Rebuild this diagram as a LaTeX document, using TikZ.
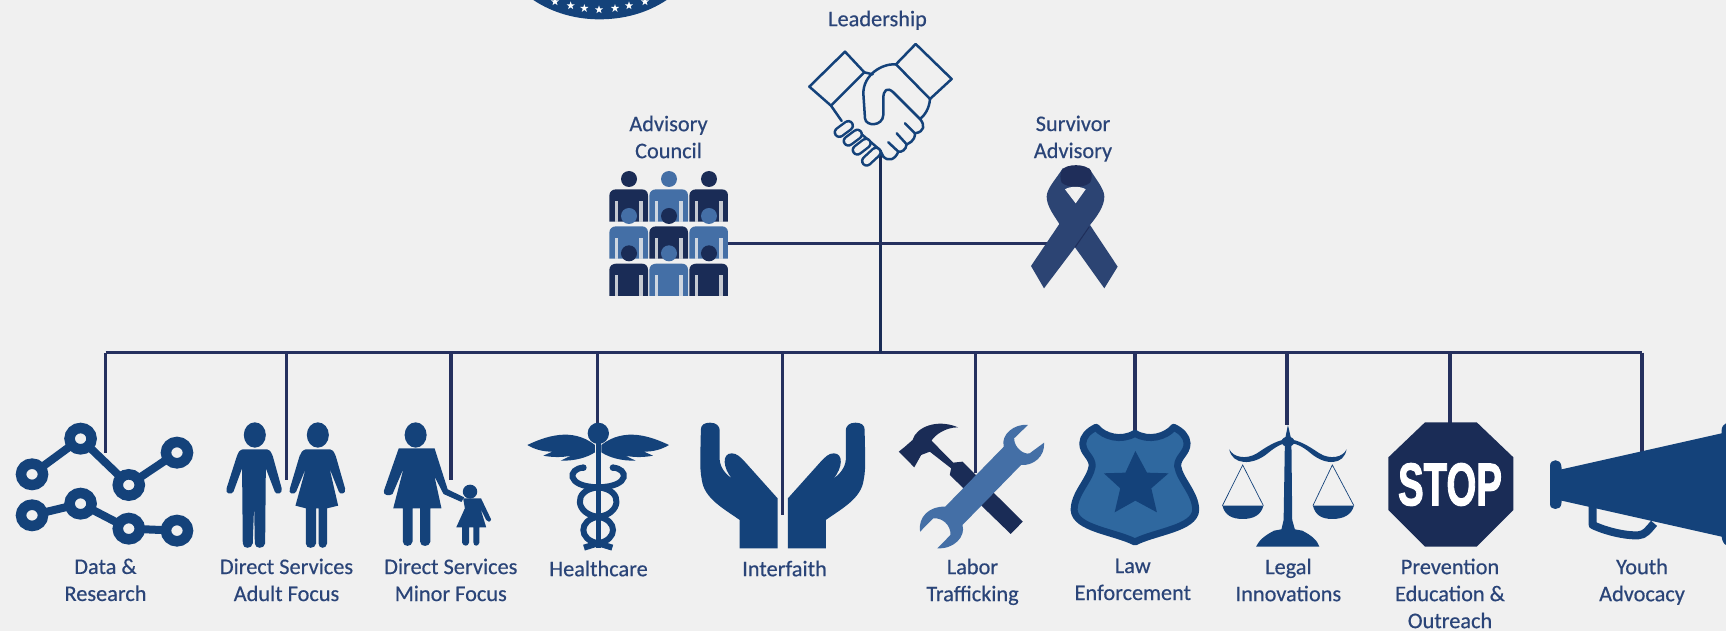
\documentclass[tikz,border=0pt]{standalone}
\usepackage{fontspec}
\setmainfont{Carlito}
\newfontfamily\lblfont[FakeBold=0.45]{Carlito}
\newfontfamily\stopfont[FakeBold=2.2]{Liberation Sans}
\definecolor{bgc}{HTML}{F0F0F0}
\definecolor{navy}{HTML}{1A2C56}
\definecolor{conn}{HTML}{25305E}
\definecolor{icon}{HTML}{14427A}
\definecolor{lite}{HTML}{446FA6}
\definecolor{ribb}{HTML}{2C4473}
\definecolor{ribd}{HTML}{1F2E5A}
\definecolor{badge}{HTML}{2F689F}
\definecolor{txt}{HTML}{2A4478}
\tikzset{
  zz/.style 2 args={shift={(#1,#2)},x=0.3333pt,y=-0.3333pt},
  zb/.style={shift={(0,340)},x=0.34435pt,y=-0.3333pt},
  zc/.style={shift={(520,340)},x=0.34435pt,y=-0.3333pt},
  zd/.style={shift={(1050,340)},x=0.43103pt,y=-0.3333pt},
  lab/.style={text=txt,align=center,inner sep=0pt,anchor=north,font=\lblfont\fontsize{22.3}{27}\selectfont},
  connector/.style={draw=conn,line width=3.4pt,line cap=butt},
  thin icon/.style={draw=icon,line width=2.5pt,line join=round,line cap=round}
}
\newcommand{\psn}[3]{%
  \begin{scope}[shift={(#1,#2)}]
    \fill[#3] (0,0) circle (24);
    \fill[#3] (-59,128) -- (-59,50) .. controls (-59,38) and (-50,31) .. (-38,31) -- (38,31) .. controls (50,31) and (57,38) .. (57,50) -- (57,128) -- cycle;
    \fill[bgc!80!#3] (-43,66) rectangle (-33,128);
    \fill[bgc!80!#3] (31,66) rectangle (41,128);
  \end{scope}}
\newcommand{\sstar}[2]{\fill[white] (#1,#2) +(270:13) -- +(306:5) -- +(342:13) -- +(18:5) -- +(54:13) -- +(90:5) -- +(126:13) -- +(162:5) -- +(198:13) -- +(234:5) -- cycle;}
\newcommand{\handshape}{(525,270) .. controls (525,255) and (535,248) .. (552,248) .. controls (570,248) and (580,258) .. (580,272) -- (580,360) .. controls (582,385) and (600,405) .. (615,415) .. controls (590,385) and (585,340) .. (615,340) .. controls (630,340) and (640,352) .. (650,362) -- (748,475) -- (748,625) -- (638,625) -- (638,540) .. controls (590,505) and (535,475) .. (528,420) .. controls (520,380) and (525,330) .. (525,270) -- cycle}
\newcommand{\wingshape}{(37,90) .. controls (90,65) and (170,35) .. (240,90) -- (240,112) .. controls (215,128) and (180,138) .. (137,137) -- (168,122) .. controls (140,128) and (110,127) .. (85,122) -- (112,110) .. controls (85,110) and (60,104) .. (37,90) -- cycle}
\newcommand{\snake}{(205,158) .. controls (160,160) and (150,215) .. (250,217) .. controls (330,225) and (315,300) .. (250,305) .. controls (190,315) and (190,375) .. (250,385) -- (292,398)}
\begin{document}
\begin{tikzpicture}[x=1pt,y=-1pt]
\fill[bgc] (0,0) rectangle (1726,631);
\path[use as bounding box] (0,0) rectangle (1726,631);

% connector coordinates
\coordinate (leadbot) at (880.5,150);
\coordinate (busmid) at (880.5,352.5);
\coordinate (advR) at (728,243.5);
\coordinate (ribL) at (1050,243.5);
\foreach \n/\x/\yy in {1/105.7/453,2/286.3/480,3/450.8/480,4/597.5/425,5/782.4/515,6/975.2/473,7/1135/432,8/1287/425,9/1450/425,10/1642/454}{
  \coordinate (bus\n) at (\x,352.5);
  \coordinate (icon\n) at (\x,\yy);
}
\draw[connector,line cap=square] (bus1) -- (bus10);
\foreach \n in {1,...,10}{\draw[connector] (bus\n) -- (icon\n);}
\draw[connector,draw=navy] (leadbot) -- (busmid);
\draw[connector] (advR) -- (ribL);

% seal
\begin{scope}[zz={510}{0}]
  \fill[icon] (70,0) .. controls (130,40) and (200,58) .. (268,58) .. controls (340,58) and (410,40) .. (470,0) -- cycle;
  \sstar{135}{5}\sstar{182}{17}\sstar{223}{25}\sstar{267}{29}\sstar{315}{25}\sstar{357}{17}\sstar{405}{5}
\end{scope}

% handshake
\begin{scope}[zz={800}{35}]
  \draw[thin icon] (135,50) -- (28,155) -- (93,212) -- (193,112) -- cycle;
  \draw[thin icon] (347,27) -- (455,132) -- (390,192) -- (288,88) -- cycle;
  \draw[thin icon] (93,212) -- (125,258);
  \draw[thin icon] (193,112) -- (218,118);
  \draw[thin icon] (288,88) .. controls (245,85) and (190,120) .. (190,175) -- (195,250) .. controls (197,275) and (248,275) .. (250,240) -- (250,190) .. controls (250,165) and (262,155) .. (280,172) -- (360,252);
  \draw[thin icon] (390,192) .. controls (388,220) and (375,240) .. (360,252) .. controls (375,270) and (375,290) .. (345,295) -- (315,265);
  \draw[thin icon] (345,295) .. controls (345,320) and (325,325) .. (320,328) -- (290,295);
  \draw[thin icon] (320,328) .. controls (318,345) and (305,352) .. (295,350) -- (265,322);
  \draw[thin icon] (295,350) .. controls (285,375) and (265,380) .. (250,365) -- (240,345) -- (170,285);
  \foreach \a/\b/\c/\d in {118/292/145/272,145/318/172/298,172/345/198/325,200/378/228/352}{
    \draw[icon,line width=11.5pt,line cap=round] (\a,\b) -- (\c,\d);
    \draw[bgc,line width=6.5pt,line cap=round] (\a,\b) -- (\c,\d);
  }
\end{scope}

% people
\begin{scope}[zz={600}{160}]
  \psn{87}{57}{navy}\psn{207}{57}{lite}\psn{327}{57}{navy}
  \psn{87}{168}{lite}\psn{207}{168}{navy}\psn{327}{168}{lite}
  \psn{87}{280}{navy}\psn{207}{280}{lite}\psn{327}{280}{navy}
\end{scope}

% ribbon
\begin{scope}[zz={1020}{160}]
  \fill[ribb] (128,25) .. controls (110,55) and (80,85) .. (80,110) .. controls (80,140) and (105,170) .. (118,192) -- (33,318) -- (72,385) -- (165,262) -- (253,385) -- (293,320) -- (210,195) .. controls (230,170) and (253,140) .. (253,110) .. controls (253,85) and (225,55) .. (208,25) -- cycle;
  \fill[ribd] (125,32) .. controls (135,10) and (200,10) .. (212,32) .. controls (218,45) and (215,60) .. (210,68) .. controls (190,85) and (145,85) .. (125,68) .. controls (120,55) and (120,42) .. (125,32) -- cycle;
  \fill[bgc] (135,88) .. controls (150,78) and (182,78) .. (197,88) -- (167,130) -- cycle;
  \draw[ribd,line width=1pt] (165,262) -- (208,200);
\end{scope}

% data & research
\begin{scope}[zb]
  \draw[icon,line width=8pt] (93,403) -- (234,296) -- (374,435) -- (514,338);
  \draw[icon,line width=8pt] (93,526) -- (234,491) -- (374,566) -- (514,572);
  \foreach \x/\y in {93/403,234/296,374/435,514/338,93/526,234/491,374/566,514/572}{
    \draw[icon,fill=bgc,line width=10.5pt] (\x,\y) circle (32);
  }
  % man
  \fill[icon] (740,285) ellipse (32 and 38);
  \fill[icon] (705,328) -- (775,328) .. controls (785,330) and (790,340) .. (792,348) -- (818,445) .. controls (822,462) and (802,466) .. (798,455) -- (772,385) -- (770,610) .. controls (768,628) and (740,628) .. (740,610) -- (738,495) -- (734,610) .. controls (732,628) and (705,628) .. (705,610) -- (703,385) -- (678,455) .. controls (672,466) and (653,462) .. (658,445) -- (688,348) .. controls (690,340) and (695,330) .. (705,328) -- cycle;
  % woman
  \fill[icon] (923,285) ellipse (32 and 38);
  \fill[icon] (888,328) -- (958,328) .. controls (968,330) and (972,340) .. (975,348) -- (1002,445) .. controls (1006,462) and (988,466) .. (984,455) -- (957,385) -- (982,497) -- (950,505) -- (950,610) .. controls (948,628) and (925,628) .. (925,610) -- (925,505) -- (918,505) -- (918,610) .. controls (916,628) and (888,628) .. (888,610) -- (888,505) -- (858,497) -- (888,385) -- (860,455) .. controls (855,466) and (835,462) .. (842,445) -- (870,348) .. controls (873,340) and (878,330) .. (888,328) -- cycle;
  % mother
  \fill[icon] (1207,285) ellipse (32 and 38);
  \fill[icon] (1158,325) -- (1262,325) -- (1300,448) -- (1348,472) -- (1340,486) -- (1288,462) -- (1262,410) -- (1282,505) -- (1250,505) -- (1250,605) .. controls (1248,622) and (1220,622) .. (1220,605) -- (1220,505) -- (1198,505) -- (1198,605) .. controls (1196,622) and (1170,622) .. (1170,605) -- (1170,505) -- (1142,505) -- (1172,385) -- (1140,462) .. controls (1130,470) and (1110,465) .. (1115,452) -- cycle;
  % child
  \fill[icon] (1365,455) circle (21);
  \fill[icon] (1345,475) -- (1397,475) -- (1426,538) .. controls (1425,548) and (1415,546) .. (1412,540) -- (1395,505) -- (1412,562) -- (1392,562) -- (1392,608) .. controls (1390,620) and (1375,620) .. (1375,608) -- (1375,562) -- (1362,562) -- (1362,608) .. controls (1360,620) and (1345,620) .. (1342,608) -- (1342,562) -- (1325,562) -- (1350,505) -- cycle;
\end{scope}

% caduceus
\begin{scope}[zz={515}{415}]
  \fill[icon] (250,55) circle (32);
  \fill[icon] \wingshape;
  \begin{scope}[shift={(499,0)},xscale=-1]\fill[icon] \wingshape;\end{scope}
  \fill[icon] (242,85) rectangle (258,400);
  \draw[icon,line width=6pt] \snake;
  \begin{scope}[shift={(499,0)},xscale=-1]\draw[icon,line width=6pt] \snake;\end{scope}
  \fill[icon] (205,158) circle (10);
  \fill[icon] (294,158) circle (10);
\end{scope}

% hands, tools
\begin{scope}[zc]
  \fill[icon] \handshape;
  \begin{scope}[shift={(1526,0)},xscale=-1]\fill[icon] \handshape;\end{scope}
  \fill[navy] (1100,335) -- (1118,320) -- (1140,300) .. controls (1150,262) and (1210,235) .. (1272,262) .. controls (1235,262) and (1205,285) .. (1195,302) -- (1258,368) -- (1285,365) -- (1460,545) -- (1425,582) -- (1248,405) -- (1252,385) -- (1190,335) -- (1165,345) -- (1145,382) -- cycle;
  \fill[lite] (1405,320) .. controls (1395,285) and (1435,250) .. (1475,255) -- (1435,295) .. controls (1435,325) and (1465,345) .. (1480,340) -- (1522,308) .. controls (1525,350) and (1490,378) .. (1455,375) -- (1285,555) .. controls (1295,590) and (1260,628) .. (1212,625) -- (1250,585) .. controls (1252,555) and (1225,532) .. (1200,535) -- (1162,575) .. controls (1155,530) and (1190,498) .. (1235,500) -- cycle;
\end{scope}

% badge, scales, stop
\begin{scope}[zd]
  \draw[icon,fill=badge,line width=7pt,line join=round] (197,280) .. controls (165,305) and (125,290) .. (107,262) .. controls (90,272) and (76,290) .. (76,310) .. controls (76,340) and (98,350) .. (98,378) .. controls (93,420) and (56,460) .. (56,510) .. controls (58,565) and (150,575) .. (197,606) .. controls (244,575) and (336,565) .. (338,510) .. controls (338,460) and (301,420) .. (296,378) .. controls (296,350) and (318,340) .. (318,310) .. controls (318,290) and (304,272) .. (287,262) .. controls (269,290) and (229,305) .. (197,280) -- cycle;
  \fill[icon] (198,333) -- (225,398) -- (275,400) -- (235,445) -- (248,517) -- (198,482) -- (150,517) -- (163,445) -- (125,400) -- (175,398) -- cycle;
  % scales
  \fill[icon] (552,255) -- (560,300) -- (562,540) -- (568,568) -- (585,572) .. controls (605,585) and (620,600) .. (625,620) -- (478,620) .. controls (485,600) and (500,585) .. (520,572) -- (537,568) -- (542,540) -- (545,300) -- cycle;
  \fill[icon] (552,305) circle (15);
  \fill[icon] (416,328) .. controls (422,375) and (470,378) .. (505,340) .. controls (525,318) and (540,310) .. (552,308) .. controls (570,310) and (585,318) .. (605,340) .. controls (640,378) and (682,375) .. (688,328) .. controls (680,352) and (650,360) .. (625,340) .. controls (600,318) and (575,298) .. (552,298) .. controls (530,298) and (505,318) .. (480,340) .. controls (455,360) and (425,352) .. (416,328) -- cycle;
  \foreach \m/\l/\r in {447/400/495,655/610/705}{
    \draw[icon,line width=0.7pt] (\l,497) -- (\m,375) -- (\r,497);
    \fill[icon] (\l,497) -- (\r,497) .. controls (\r-5,525) and (\m+25,537) .. (\m,537) .. controls (\m-25,537) and (\l+5,525) .. (\l,497) -- cycle;
  }
  % stop
  \fill[navy] (870,247) -- (990,247) -- (1075,352) -- (1075,510) -- (990,620) -- (870,620) -- (785,510) -- (785,352) -- cycle;
\end{scope}
\node[text=white,inner sep=0pt,xscale=0.64,font=\stopfont\fontsize{60}{60}\selectfont\bfseries] (stop) at (1450,484.5) {STOP};

% megaphone
\begin{scope}[zz={1540}{410}]
  \fill[icon] (30,168) .. controls (30,145) and (62,145) .. (64,168) -- (65,178) -- (545,70) -- (545,60) .. controls (545,50) and (552,42) .. (558,40) -- (558,405) .. controls (552,403) and (546,392) .. (545,380) -- (65,272) -- (64,282) .. controls (62,302) and (30,302) .. (30,282) -- cycle;
  \draw[icon,line width=8pt,line join=round] (158,290) -- (158,345) .. controls (200,365) and (260,378) .. (295,376) .. controls (315,375) and (325,360) .. (342,340);
\end{scope}

% labels
\node[lab] (lLead) at (877.5,10.5) {Leadership};
\node[lab] (lAdv) at (668.5,115.5) {Advisory\\Council};
\node[lab] (lSur) at (1073,115.5) {Survivor\\Advisory};
\node[lab] (lData) at (105.5,558.5) {Data \&\\Research};
\node[lab] (lAdult) at (286.5,558.5) {Direct Services\\Adult Focus};
\node[lab] (lMinor) at (450.8,558.5) {Direct Services\\Minor Focus};
\node[lab] (lHealth) at (598.5,560.5) {Healthcare};
\node[lab] (lInter) at (784.5,560.5) {Interfaith};
\node[lab] (lLabor) at (972.5,558.5) {Labor\\Trafficking};
\node[lab] (lLaw) at (1132.8,558.5) {Law\\Enforcement};
\node[lab] (lLegal) at (1288.4,558.5) {Legal\\Innovations};
\node[lab] (lPrev) at (1450,558.5) {Prevention\\Education \&\\Outreach};
\node[lab] (lYouth) at (1642,558.5) {Youth\\Advocacy};
\end{tikzpicture}
\end{document}
